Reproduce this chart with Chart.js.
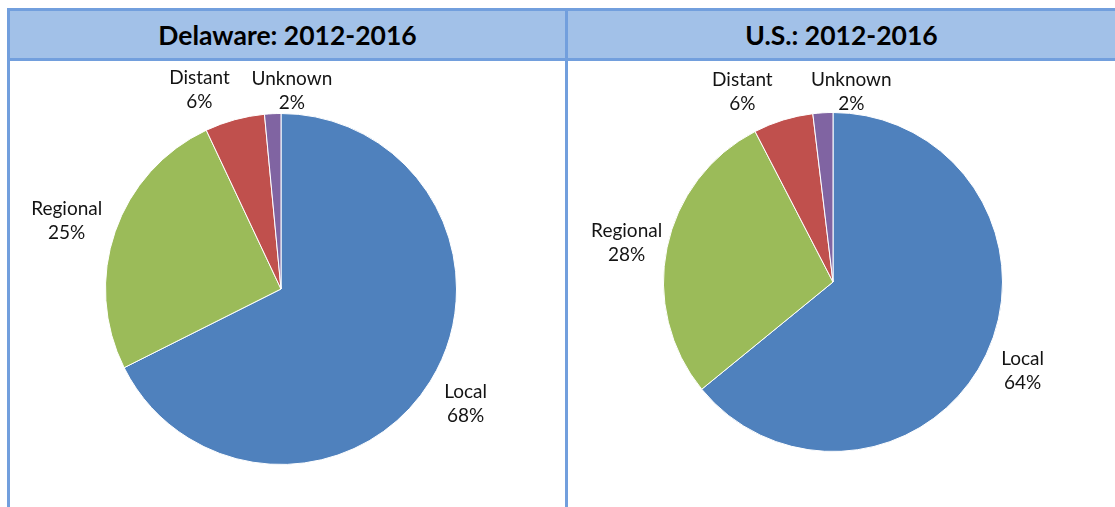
<!DOCTYPE html>
<html>
<head>
<meta charset="utf-8">
<script src="https://cdn.jsdelivr.net/npm/chart.js@4.4.1/dist/chart.umd.min.js"></script>
<style>
  html, body { margin: 0; padding: 0; background: #fff; width: 1115px; height: 507px; overflow: hidden; position: relative; }
  .line { position: absolute; background: #729fdd; }
  .hdr { position: absolute; top: 11px; height: 47px; background: #a2c1e8; display: flex; align-items: center; justify-content: center;
         font-family: Lato, "Open Sans", sans-serif; font-weight: bold; font-size: 26.5px; color: #000; }
  .box { position: absolute; top: 61px; height: 446px; }
</style>
</head>
<body>
<div class="hdr" id="t1" style="left:10px; width:555px;"></div>
<div class="hdr" id="t2" style="left:568px; width:547px;"></div>
<div class="line" style="left:7px; top:8px; width:1108px; height:3px;"></div>
<div class="line" style="left:7px; top:58px; width:1108px; height:3px;"></div>
<div class="line" style="left:7px; top:8px; width:3px; height:499px;"></div>
<div class="line" style="left:565px; top:8px; width:3px; height:499px;"></div>
<div class="box" style="left:10px; width:555px;"><canvas id="c1"></canvas></div>
<div class="box" style="left:568px; width:547px;"><canvas id="c2"></canvas></div>
<script>
const categories = ["Local", "Regional", "Distant", "Unknown"];
const titles = ["Delaware: 2012-2016", "U.S.: 2012-2016"];
const delawareValues = [67.6, 25.4, 5.5, 1.5];
const usValues = [64.1, 28.3, 5.7, 1.9];
const sliceColors = ["#4f81bd", "#9bbb59", "#c0504d", "#8064a2"];

document.getElementById('t1').textContent = titles[0];
document.getElementById('t2').textContent = titles[1];

const outLabels = {
  id: 'outLabels',
  afterDatasetsDraw(chart, args, opts) {
    const ctx = chart.ctx;
    const meta = chart.getDatasetMeta(0);
    const labels = chart.data.labels;
    const vals = chart.data.datasets[0].data;
    const lineH = 24;
    ctx.save();
    ctx.font = '19px Lato, "Open Sans", sans-serif';
    ctx.fillStyle = '#141414';
    ctx.textAlign = 'center';
    ctx.textBaseline = 'middle';
    meta.data.forEach((arc, i) => {
      const p = arc.getProps(['x', 'y', 'startAngle', 'endAngle', 'outerRadius'], true);
      const mid = (p.startAngle + p.endAngle) / 2;
      const c = Math.cos(mid), s = Math.sin(mid);
      const l1 = labels[i];
      const l2 = Math.round(vals[i]) + '%';
      const w = Math.max(ctx.measureText(l1).width, ctx.measureText(l2).width);
      const h = 2 * lineH;
      const g = opts.gap;
      let cx = p.x + (p.outerRadius + g) * c + (w / 2) * c;
      let cy = p.y + (p.outerRadius + g) * s + (h / 2 - 2) * s;
      const n = (opts.nudge && opts.nudge[i]) || [0, 0];
      cx += n[0]; cy += n[1];
      ctx.fillText(l1, cx, cy - lineH / 2 + 1);
      ctx.fillText(l2, cx, cy + lineH / 2 + 1);
    });
    ctx.restore();
  }
};

function makePie(id, values, padding, nudge) {
  return new Chart(document.getElementById(id), {
    type: 'pie',
    data: {
      labels: categories,
      datasets: [{ data: values, backgroundColor: sliceColors, borderColor: '#ffffff', borderWidth: 1 }]
    },
    options: {
      responsive: true,
      maintainAspectRatio: false,
      animation: false,
      layout: { padding: padding },
      plugins: {
        legend: { display: false },
        tooltip: { enabled: false },
        title: { display: false },
        outLabels: { gap: 20, nudge: nudge }
      }
    },
    plugins: [outLabels]
  });
}

makePie('c1', delawareValues, { top: 52, bottom: 42, left: 95, right: 108 },
  [[0, 0], [4, 2], [-22, 10], [22, 18]]);
makePie('c2', usValues, { top: 51, bottom: 55, left: 95, right: 112 },
  [[-1, -3], [14, 3], [-26, 11], [32, 20]]);
</script>
</body>
</html>
